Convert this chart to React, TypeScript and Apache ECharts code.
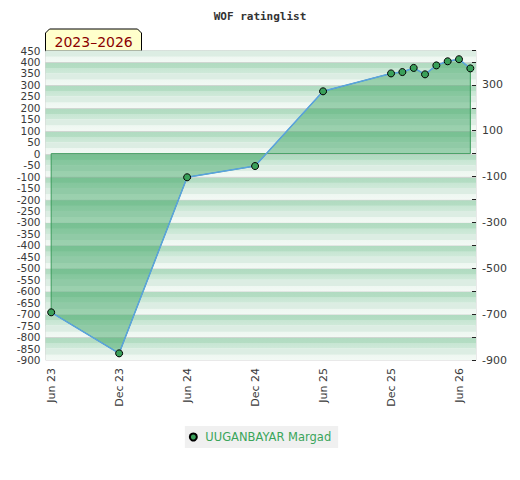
import React, { useEffect, useRef } from "react";
import * as echarts from "echarts";

const months = [
  "Jun 23", "Jul 23", "Aug 23", "Sep 23", "Oct 23", "Nov 23", "Dec 23",
  "Jan 24", "Feb 24", "Mar 24", "Apr 24", "May 24", "Jun 24",
  "Jul 24", "Aug 24", "Sep 24", "Oct 24", "Nov 24", "Dec 24",
  "Jan 25", "Feb 25", "Mar 25", "Apr 25", "May 25", "Jun 25",
  "Jul 25", "Aug 25", "Sep 25", "Oct 25", "Nov 25", "Dec 25",
  "Jan 26", "Feb 26", "Mar 26", "Apr 26", "May 26", "Jun 26", "Jul 26",
];

const pointMonths = ["Jun 23", "Dec 23", "Jun 24", "Dec 24", "Jun 25", "Dec 25", "Jan 26", "Feb 26", "Mar 26", "Apr 26", "May 26", "Jun 26", "Jul 26"];
const ratings = [-692, -871, -103, -54, 272, 350, 356, 374, 346, 385, 403, 412, 372];

const seriesName = "UUGANBAYAR Margad";
const titleText = "WOF ratinglist";
const periodText = "2023–2026";

export default function App() {
  const ref = useRef<HTMLDivElement>(null);
  useEffect(() => {
    document.body.style.margin = "0";
    const chart = echarts.init(ref.current!, null, { renderer: "svg" });
    const pts = pointMonths.map((m, i) => [months.indexOf(m), ratings[i]]);

    const lightBand = new echarts.graphic.LinearGradient(0, 0, 0, 1, [
      { offset: 0, color: "#dcede3" },
      { offset: 0.5, color: "#dcede3" },
      { offset: 0.55, color: "#eef7f1" },
      { offset: 1, color: "#f2f9f4" },
    ]);
    const darkBand = new echarts.graphic.LinearGradient(0, 0, 0, 1, [
      { offset: 0, color: "#cfd6d1" },
      { offset: 0.08, color: "#cfd6d1" },
      { offset: 0.09, color: "#b1dbc1" },
      { offset: 0.5, color: "#b4ddc3" },
      { offset: 0.55, color: "#c7e6d3" },
      { offset: 1, color: "#cfe9d9" },
    ]);

    const axisFont = { fontFamily: "DejaVu Sans", fontSize: 10.5, lineHeight: 11, color: "#3a3a3a" };

    const option: any = {
      animation: false,
      title: {
        text: titleText,
        left: "center",
        top: 6,
        textStyle: { fontFamily: "DejaVu Sans Mono", fontWeight: "bold", fontSize: 11, color: "#333" },
      },
      legend: {
        data: [{ name: seriesName, icon: "circle" }],
        bottom: 32,
        left: "center",
        backgroundColor: "#f0f0f0",
        padding: [5, 7, 5, 4],
        itemWidth: 14,
        itemHeight: 7,
        itemGap: 6,
        textStyle: { color: "#3aa55a", fontFamily: "DejaVu Sans", fontSize: 11.5 },
      },
      grid: {
        left: 45.5,
        right: 44,
        top: 50.5,
        bottom: 120,
        show: true,
        borderColor: "#d4d4d4",
        borderWidth: 1,
        backgroundColor: "transparent",
      },
      xAxis: {
        type: "category",
        data: months,
        boundaryGap: true,
        axisLine: { show: false },
        axisTick: { show: false },
        splitLine: { show: false },
        axisLabel: {
          interval: 5,
          rotate: 90,
          margin: 8,
          fontFamily: "DejaVu Sans",
          fontSize: 11,
          color: "#3a3a3a",
        },
      },
      yAxis: [
        {
          type: "value",
          min: -900,
          max: 450,
          interval: 50,
          axisLine: { show: false },
          axisTick: { show: false },
          splitLine: { show: false },
          splitArea: { show: true, areaStyle: { color: [lightBand, darkBand] } },
          axisLabel: { ...axisFont, margin: 5 },
        },
        {
          type: "value",
          position: "right",
          min: -900,
          max: 450,
          interval: 100,
          axisLine: { show: false },
          axisTick: { show: true, inside: true, length: 4, lineStyle: { color: "#222" } },
          splitLine: { show: false },
          axisLabel: {
            ...axisFont,
            fontSize: 11,
            margin: 6,
            formatter: (v: number) => ((v + 900) % 200 === 0 && v <= 300 ? String(v) : ""),
          },
        },
      ],
      series: [
        {
          type: "custom",
          name: "fill",
          silent: true,
          data: pts,
          renderItem: (params: any, api: any) => {
            if (params.dataIndex !== 0) return null;
            const first = pts[0][0];
            const last = pts[pts.length - 1][0];
            const poly = [api.coord([first, 0])]
              .concat(pts.map((p) => api.coord(p)))
              .concat([api.coord([last, 0])]);
            return {
              type: "polygon",
              shape: { points: poly },
              style: { fill: "rgba(50,160,90,0.45)", stroke: "#3a9a5a", lineWidth: 1 },
            };
          },
          z: 1,
        },
        {
          type: "line",
          name: seriesName,
          data: pts,
          symbol: "circle",
          symbolSize: 7,
          lineStyle: { color: "#5aa2e0", width: 1.5 },
          itemStyle: { color: "#3aa05a", borderColor: "#000", borderWidth: 1 },
          z: 3,
        },
      ],
      graphic: [
        {
          type: "group",
          left: 45,
          top: 28.5,
          children: [
            {
              type: "polygon",
              shape: { points: [[0, 22], [0, 4], [4, 0], [92, 0], [96, 4], [96, 22]] },
              style: { fill: "#ffffcc", stroke: "#000", lineWidth: 1 },
            },
            {
              type: "text",
              x: 9,
              y: 12.5,
              style: {
                text: periodText,
                fill: "#8b0000",
                font: "14px DejaVu Sans",
                textVerticalAlign: "middle",
              },
            },
          ],
        },
      ],
    };
    chart.setOption(option);
    return () => chart.dispose();
  }, []);
  return <div ref={ref} style={{ width: 520, height: 480 }} />;
}
